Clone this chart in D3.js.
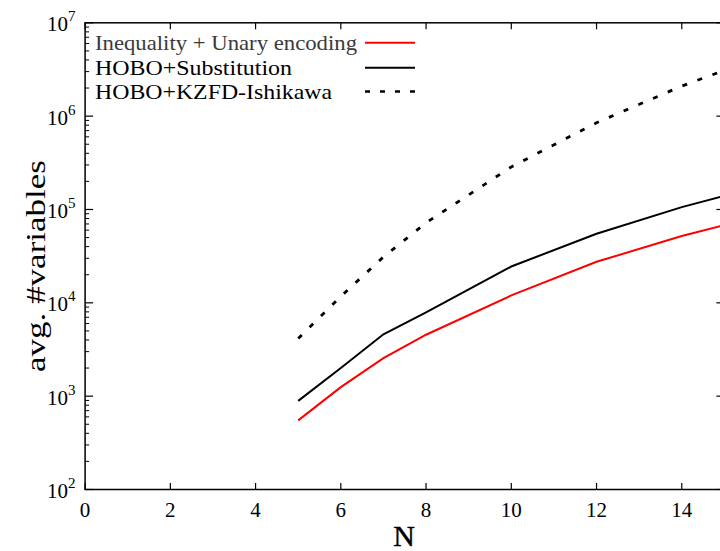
<!DOCTYPE html>
<html>
<head>
<meta charset="utf-8">
<script src="https://cdn.jsdelivr.net/npm/d3@7"></script>
<style>
  html, body { margin: 0; padding: 0; background: #fff; }
  svg { display: block; }
  text { font-family: "Liberation Serif", "Times New Roman", serif; }
</style>
</head>
<body>
<svg id="chart" width="720" height="551"></svg>
<script>
// ---- data ----
const nValues = [5, 6, 7, 8, 10, 12, 14, 15];
const inequalityUnary = [550, 1250, 2550, 4550, 12000, 27500, 52000, 68000];
const hoboSubstitution = [890, 2000, 4600, 7900, 24500, 55000, 106000, 140000];
const hoboKZFD = [4150, 11700, 31000, 72000, 286000, 850000, 2100000, 3100000];
const seriesNames = ["Inequality + Unary encoding", "HOBO+Substitution", "HOBO+KZFD-Ishikawa"];
const xTicks = [0, 2, 4, 6, 8, 10, 12, 14];
const yExponents = [2, 3, 4, 5, 6, 7];
const xLabel = "N";
const yLabel = "avg. #variables";

// ---- layout ----
const svg = d3.select("#chart");
const pL = 85.1, pR = 724.4, pT = 22.8, pB = 489.5;
const x = d3.scaleLinear().domain([0, 15]).range([pL, pR]);
const y = d3.scaleLog().domain([1e2, 1e7]).range([pB, pT]);

const series = [
  { name: seriesNames[0], values: inequalityUnary, color: "#ff0000", dash: null, textColor: "#3a3a3a", tl: 262, fs: 21 },
  { name: seriesNames[1], values: hoboSubstitution, color: "#000000", dash: null, textColor: "#000", tl: 197, fs: 22 },
  { name: seriesNames[2], values: hoboKZFD, color: "#000000", dash: "5,11", textColor: "#000", tl: 237, fs: 22 }
];

// frame
svg.append("rect")
  .attr("x", pL).attr("y", pT)
  .attr("width", pR - pL).attr("height", pB - pT)
  .attr("fill", "none").attr("stroke", "#000").attr("stroke-width", 1.5);

// ticks
const g = svg.append("g").attr("stroke", "#000").attr("stroke-width", 1.2);
const xAllTicks = d3.range(0, 16, 2);
xAllTicks.forEach(v => {
  g.append("line").attr("x1", x(v)).attr("x2", x(v)).attr("y1", pB).attr("y2", pB - 6.5);
  g.append("line").attr("x1", x(v)).attr("x2", x(v)).attr("y1", pT).attr("y2", pT + 6.5);
});
for (let e = 2; e <= 7; e++) {
  const v = Math.pow(10, e);
  g.append("line").attr("x1", pL).attr("x2", pL + 8).attr("y1", y(v)).attr("y2", y(v));
  g.append("line").attr("x1", pR).attr("x2", pR - 8).attr("y1", y(v)).attr("y2", y(v));
  if (e < 7) {
    for (let m = 2; m <= 9; m++) {
      const mv = m * v;
      g.append("line").attr("x1", pL).attr("x2", pL + 4).attr("y1", y(mv)).attr("y2", y(mv)).attr("stroke-width", 1);
      g.append("line").attr("x1", pR).attr("x2", pR - 4).attr("y1", y(mv)).attr("y2", y(mv)).attr("stroke-width", 1);
    }
  }
}

// x tick labels
svg.append("g").selectAll("text").data(xTicks).join("text")
  .attr("x", d => x(d)).attr("y", 516.7)
  .attr("text-anchor", "middle")
  .attr("font-size", 21)
  .attr("fill", "#000")
  .text(d => d);

// y tick labels 10^e
const yl = svg.append("g");
yExponents.forEach(e => {
  const t = yl.append("text")
    .attr("x", 75.5).attr("y", y(Math.pow(10, e)) + 8.5)
    .attr("text-anchor", "end")
    .attr("font-size", 21).attr("fill", "#000");
  t.append("tspan").text("10");
  t.append("tspan").attr("dy", -10).attr("font-size", 15).text(e);
});

// axis titles
svg.append("text")
  .attr("x", 404).attr("y", 546)
  .attr("text-anchor", "middle")
  .attr("font-size", 30).attr("fill", "#000")
  .attr("stroke", "#000").attr("stroke-width", 0.4)
  .text(xLabel);
svg.append("text")
  .attr("transform", "translate(45,266) rotate(-90)")
  .attr("text-anchor", "middle")
  .attr("font-size", 28).attr("fill", "#000")
  .attr("textLength", 212).attr("lengthAdjust", "spacingAndGlyphs")
  .text(yLabel);

// lines
const line = d3.line().x((d, i) => x(nValues[i])).y(d => y(d));
svg.append("clipPath").attr("id", "plotclip")
  .append("rect").attr("x", pL).attr("y", pT).attr("width", pR - pL).attr("height", pB - pT);
series.forEach(s => {
  svg.append("path")
    .datum(s.values)
    .attr("clip-path", "url(#plotclip)")
    .attr("d", line)
    .attr("fill", "none")
    .attr("stroke", s.color)
    .attr("stroke-width", s.dash ? 2.8 : 2)
    .attr("stroke-dasharray", s.dash);
});

// legend
const legY = [42.7, 67.7, 91.5];
series.forEach((s, i) => {
  svg.append("text")
    .attr("x", 95).attr("y", legY[i] + 7.5)
    .attr("font-size", s.fs)
    .attr("textLength", s.tl).attr("lengthAdjust", "spacingAndGlyphs")
    .attr("fill", s.textColor)
    .text(s.name);
  svg.append("line")
    .attr("x1", 365).attr("x2", 415)
    .attr("y1", legY[i]).attr("y2", legY[i])
    .attr("stroke", s.color)
    .attr("stroke-width", s.dash ? 2.6 : 2)
    .attr("stroke-dasharray", s.dash ? "5,10" : null);
});
</script>
</body>
</html>
